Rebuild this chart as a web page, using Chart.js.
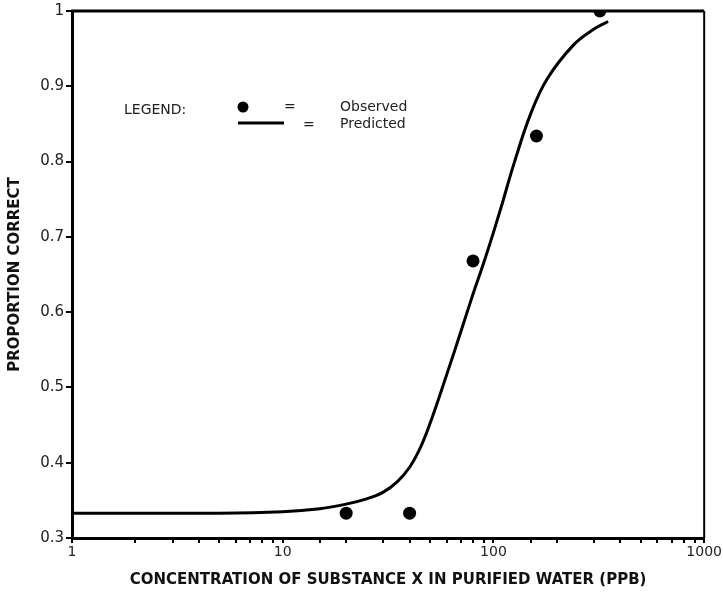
<!DOCTYPE html>
<html>
<head>
<meta charset="utf-8">
<script src="https://cdn.jsdelivr.net/npm/chart.js@4.4.1/dist/chart.umd.min.js"></script>
<style>
  html, body { margin: 0; padding: 0; background: #fff; }
  #wrap { width: 723px; height: 597px; }
</style>
</head>
<body>
<div id="wrap"><canvas id="chart"></canvas></div>
<script>
(function () {
    'use strict';

    // observed points
    const obsX = [20, 40, 80, 160, 320];
    const obsY = [0.333, 0.333, 0.668, 0.834, 1.0];

    // predicted curve
    const predX = [1, 5, 10, 15, 20, 25, 30, 35, 40, 45, 50, 60, 70, 80, 90, 100, 110, 125, 150, 180, 240, 300, 350];
    const predY = [0.333, 0.333, 0.335, 0.339, 0.345, 0.352, 0.361, 0.375, 0.394, 0.42, 0.452, 0.517, 0.574, 0.624, 0.666, 0.706, 0.744, 0.797, 0.863, 0.91, 0.955, 0.976, 0.986];

    const yTicks = [0.3, 0.4, 0.5, 0.6, 0.7, 0.8, 0.9, 1];

    const toPts = (xs, ys) => xs.map((x, i) => ({ x: x, y: ys[i] }));

    const FONT = 'DejaVu Sans';

    // frame + hand drawn legend
    const frame = {
        id: 'frame',
        afterDraw(chart) {
            const ctx = chart.ctx;
            const a = chart.chartArea;
            ctx.save();
            ctx.strokeStyle = '#000';
            ctx.lineWidth = 3;
            ctx.beginPath();
            ctx.moveTo(a.left - 1, a.top);
            ctx.lineTo(a.right, a.top);
            ctx.stroke();
            ctx.lineWidth = 2;
            ctx.beginPath();
            ctx.moveTo(a.right, a.top);
            ctx.lineTo(a.right, a.bottom);
            ctx.stroke();

            // legend
            ctx.fillStyle = '#222';
            ctx.font = '14px "' + FONT + '"';
            ctx.textBaseline = 'middle';
            ctx.fillText('LEGEND:', 124, 110);
            ctx.fillText('=', 284, 107);
            ctx.fillText('Observed', 340, 107);
            ctx.fillText('=', 303, 125);
            ctx.fillText('Predicted', 340, 124);
            ctx.fillStyle = '#000';
            ctx.beginPath();
            ctx.arc(243, 107, 5.5, 0, Math.PI * 2);
            ctx.fill();
            ctx.lineWidth = 3;
            ctx.beginPath();
            ctx.moveTo(238, 123);
            ctx.lineTo(284, 123);
            ctx.stroke();
            ctx.restore();
        }
    };

    const ctx = document.getElementById('chart').getContext('2d');

    new Chart(ctx, {
        type: 'scatter',
        data: {
            datasets: [{
                label: 'Predicted',
                data: toPts(predX, predY),
                showLine: true,
                borderColor: '#000',
                borderWidth: 3,
                pointRadius: 0,
                tension: 0.4,
                order: 2
            }, {
                label: 'Observed',
                data: toPts(obsX, obsY),
                backgroundColor: '#000',
                borderColor: '#000',
                pointRadius: 6.5,
                borderWidth: 0,
                order: 1
            }]
        },
        options: {
            responsive: true,
            maintainAspectRatio: false,
            animation: false,
            layout: { padding: { left: 0, right: 16, top: 10, bottom: 0 } },
            plugins: {
                legend: { display: false },
                tooltip: { enabled: false }
            },
            scales: {
                x: {
                    type: 'logarithmic',
                    min: 1,
                    max: 1000,
                    border: { display: true, color: '#000', width: 3 },
                    grid: { display: true, drawOnChartArea: false, drawTicks: true, tickLength: 5, color: '#000', lineWidth: 2 },
                    ticks: {
                        color: '#222',
                        font: { family: FONT, size: 14 },
                        padding: 1,
                        maxRotation: 0,
                        autoSkip: false,
                        callback: function (v) {
                            const l = Math.log10(v);
                            return Math.abs(l - Math.round(l)) < 1e-9 ? String(v) : '';
                        }
                    },
                    title: {
                        display: true,
                        text: 'CONCENTRATION OF SUBSTANCE X IN PURIFIED WATER (PPB)',
                        color: '#111',
                        font: { family: FONT, size: 15, weight: 'bold' },
                        padding: { top: 4, bottom: 8 }
                    },
                    afterFit: function (s) { s.height = 59; }
                },
                y: {
                    min: 0.3,
                    max: 1,
                    afterBuildTicks: function (s) { s.ticks = yTicks.map(v => ({ value: v })); },
                    border: { display: true, color: '#000', width: 3 },
                    grid: { display: true, drawOnChartArea: false, drawTicks: true, tickLength: 6, color: '#000', lineWidth: 2 },
                    ticks: {
                        color: '#222',
                        font: { family: FONT, size: 15 },
                        padding: 2,
                        callback: function (v) { return String(Number(v.toFixed(1))); }
                    },
                    title: {
                        display: true,
                        text: 'PROPORTION CORRECT',
                        color: '#111',
                        font: { family: FONT, size: 15, weight: 'bold' },
                        padding: { top: 6, bottom: 10 }
                    },
                    afterFit: function (s) { s.width = 72; }
                }
            }
        },
        plugins: [frame]
    });
})();
</script>
</body>
</html>
